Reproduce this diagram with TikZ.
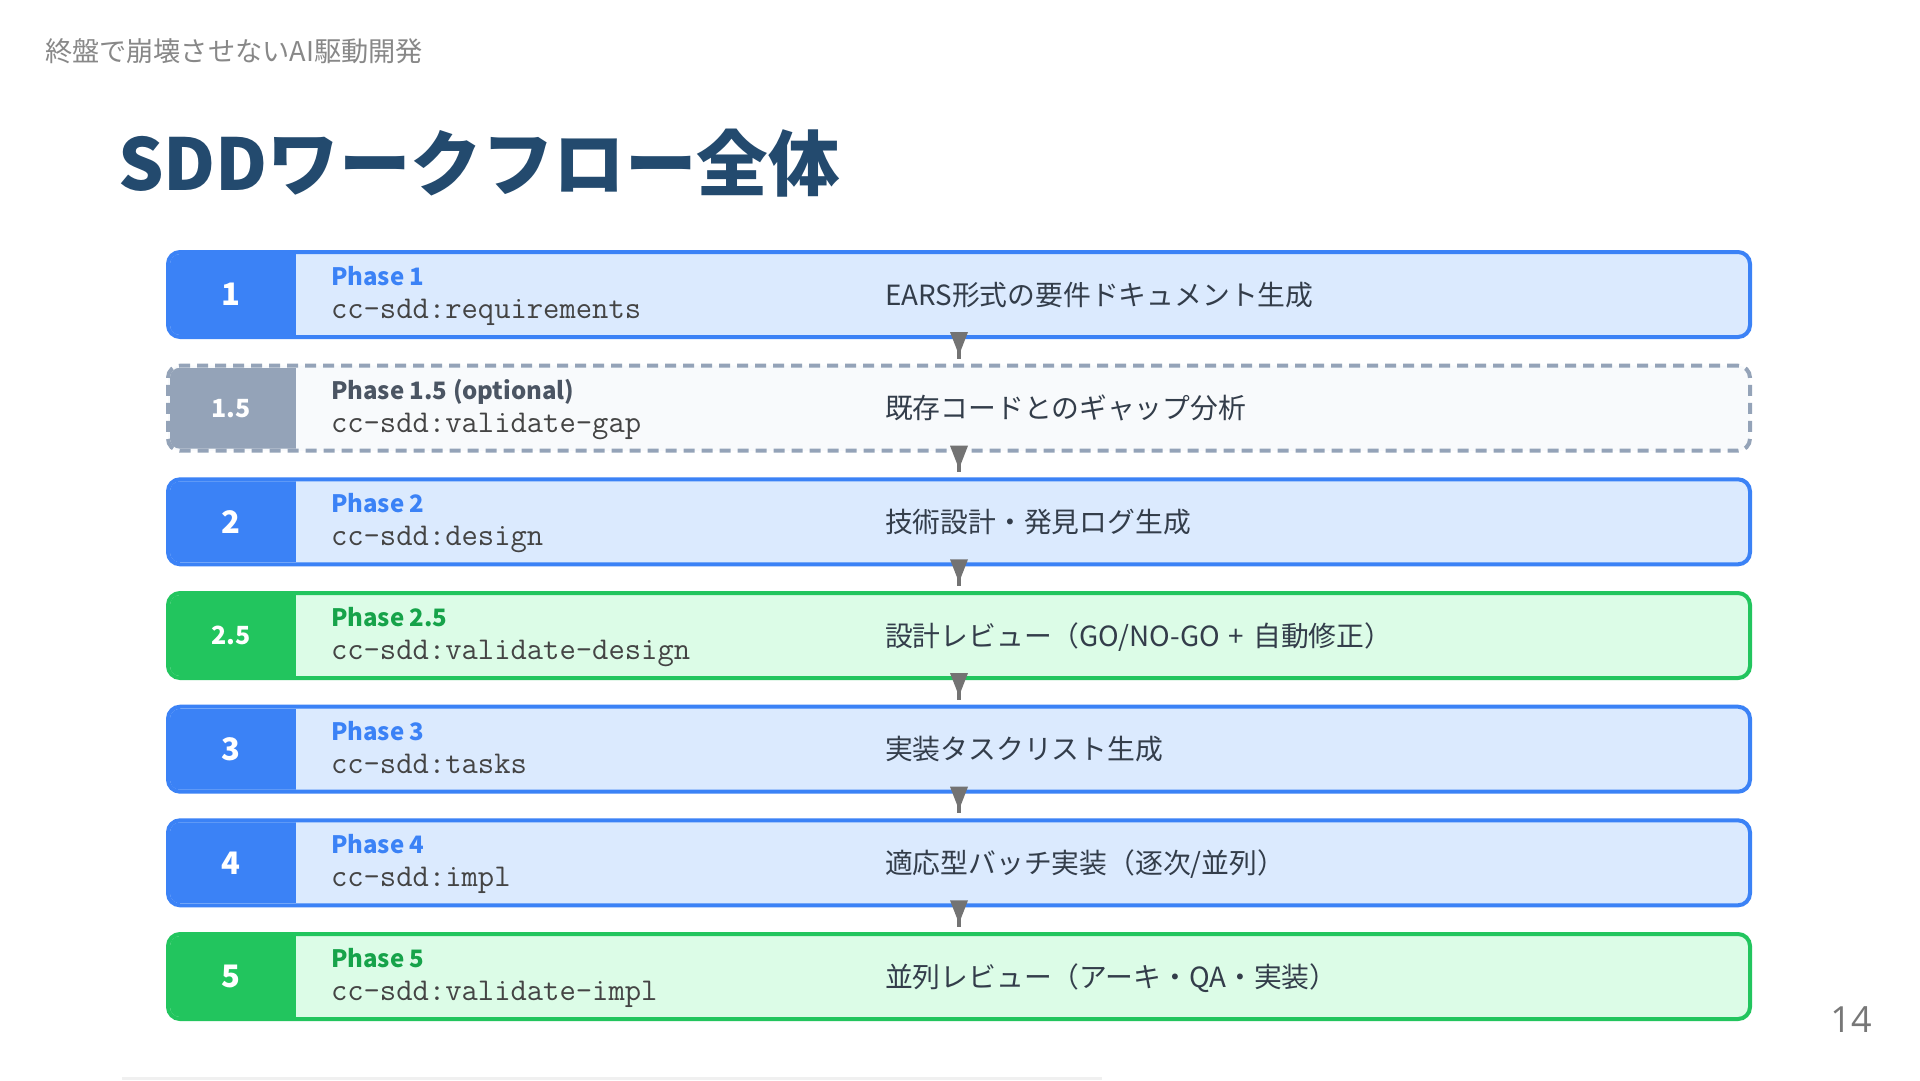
\documentclass[tikz,border=0pt]{standalone}
\usepackage{fontspec}
\usetikzlibrary{calc}
\newfontfamily\jp{Noto Sans CJK JP}
\newfontfamily\pnfont{Open Sans}
\definecolor{bluerowB}{HTML}{3B82F6}
\definecolor{bluerowF}{HTML}{DBEAFE}
\definecolor{bluephase}{HTML}{3B82F6}
\definecolor{greenrowB}{HTML}{22C55E}
\definecolor{greenrowF}{HTML}{DCFCE7}
\definecolor{greenphase}{HTML}{16A34A}
\definecolor{grayrowB}{HTML}{94A3B8}
\definecolor{grayrowF}{HTML}{F8FAFC}
\definecolor{grayphase}{HTML}{4B5563}
\definecolor{arrowG}{HTML}{737373}
\definecolor{titleC}{HTML}{234A6E}
\definecolor{headC}{HTML}{888888}
\definecolor{descC}{HTML}{333D4A}
\definecolor{codeC}{HTML}{444444}
\definecolor{pageC}{HTML}{777777}
\tikzset{
  every node/.style={inner sep=0pt, outer sep=0pt},
  rowbox/.style={draw, line width=4pt, rounded corners=12pt, minimum width=1582pt, minimum height=85pt, anchor=north west},
  bluerow/.style={draw=bluerowB, fill=bluerowF},
  greenrow/.style={draw=greenrowB, fill=greenrowF},
  grayrow/.style={draw=grayrowB, fill=grayrowF, dash pattern=on 11pt off 7pt},
  bluebadge/.style={fill=bluerowB},
  greenbadge/.style={fill=greenrowB},
  graybadge/.style={fill=grayrowB},
  badgetxt/.style={text=white, anchor=center},
  bigbadge/.style={font={\jp\bfseries\fontsize{31}{34}\selectfont}},
  smallbadge/.style={font={\jp\bfseries\fontsize{25}{28}\selectfont}},
  phasetxt/.style={anchor=base west, font={\jp\bfseries\fontsize{24}{28}\selectfont}},
  codetxt/.style={anchor=base west, text=codeC, font={\ttfamily\fontsize{31.7}{34}\selectfont}},
  desctxt/.style={anchor=base west, text=descC, font={\jp\fontsize{27.8}{32}\selectfont}},
  flowstem/.style={draw=arrowG, line width=3.5pt},
  flowhead/.style={fill=arrowG},
}
\newcommand\PhRow[8]{%
  \node[rowbox,#3row] (#1) at (168,#2) {};
  \begin{scope}
    \clip[rounded corners=10pt] ($(#1.north west)+(2,2)$) rectangle ($(#1.south east)+(-2,-2)$);
    \fill[#3badge] ($(#1.north west)+(2,2)$) rectangle ($(#1.south west)+(128,-2)$);
  \end{scope}
  \node[badgetxt,#5] (#1num) at ($(#1.west)+(63,0)$) {#4};
  \node[phasetxt, text=#3phase] (#1phase) at ($(#1.north west)+(163,33.5)$) {#6};
  \node[codetxt] (#1code) at ($(#1.north west)+(163,66.5)$) {#7};
  \node[desctxt] (#1desc) at ($(#1.north west)+(717,53)$) {#8};
}
\newcommand\Flow[2]{%
  \fill[flowhead] ($(#1.south)+(-9,-5)$) -- ($(#1.south)+(9,-5)$) -- ($(#1.south)+(1.6,14)$) -- ($(#1.south)+(-1.6,14)$) -- cycle;
  \draw[flowstem] ($(#1.south)+(0,8)$) -- ($(#2.north)+(0,-7)$);
}
\begin{document}
\begin{tikzpicture}[x=1pt,y=-1pt]
\useasboundingbox (0,0) rectangle (1920,1080);
\fill[white] (0,0) rectangle (1920,1080);

\node[anchor=west, text=headC, font={\jp\fontsize{27.2}{31}\selectfont}] (hdr) at (45,51) {終盤で崩壊させないAI駆動開発};
\node[anchor=west, text=titleC, font={\jp\bfseries\fontsize{71.5}{78}\selectfont}] (title) at (118,163) {SDDワークフロー全体};

\PhRow{p1}{252}{blue}{1}{bigbadge}{Phase 1}{cc-sdd:requirements}{EARS形式の要件ドキュメント生成}
\PhRow{p15}{365.7}{gray}{1.5}{smallbadge}{Phase 1.5 (optional)}{cc-sdd:validate-gap}{既存コードとのギャップ分析}
\PhRow{p2}{479.3}{blue}{2}{bigbadge}{Phase 2}{cc-sdd:design}{技術設計・発見ログ生成}
\PhRow{p25}{593}{green}{2.5}{smallbadge}{Phase 2.5}{cc-sdd:validate-design}{設計レビュー（GO/NO-GO\hspace{9pt}+\hspace{9pt}自動修正）}
\PhRow{p3}{706.7}{blue}{3}{bigbadge}{Phase 3}{cc-sdd:tasks}{実装タスクリスト生成}
\PhRow{p4}{820.3}{blue}{4}{bigbadge}{Phase 4}{cc-sdd:impl}{適応型バッチ実装（逐次/並列）}
\PhRow{p5}{934}{green}{5}{bigbadge}{Phase 5}{cc-sdd:validate-impl}{並列レビュー（アーキ・QA・実装）}

\Flow{p1}{p15}
\Flow{p15}{p2}
\Flow{p2}{p25}
\Flow{p25}{p3}
\Flow{p3}{p4}
\Flow{p4}{p5}

\draw[line width=3pt, black!6] (122,1078.5) -- (1102,1078.5);
\node[anchor=center, text=pageC, font={\pnfont\fontsize{36}{40}\selectfont}] (page) at (1851,1020) {14};
\end{tikzpicture}
\end{document}
